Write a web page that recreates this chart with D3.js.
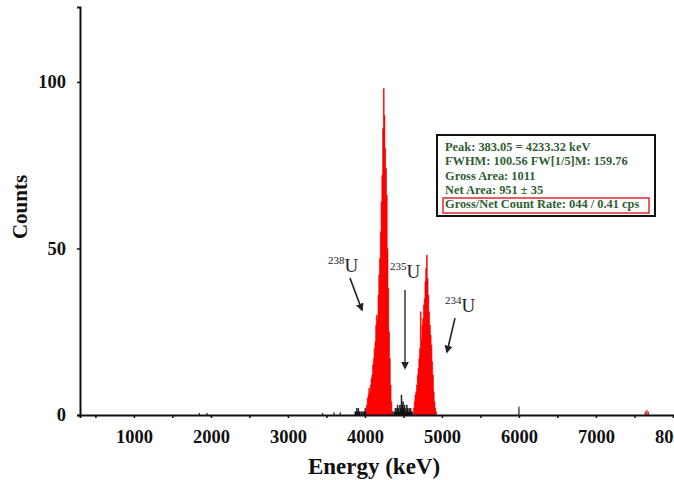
<!DOCTYPE html>
<html>
<head>
<meta charset="utf-8">
<script src="https://cdn.jsdelivr.net/npm/d3@7"></script>
<style>
  body { margin: 0; background: #fff; }
  svg { display: block; font-family: "Liberation Serif", "Times New Roman", serif; }
</style>
</head>
<body>
<div id="container"></div>
<script>
// spectrum, 10 keV channels
const noiseLowEnergy = [3860,3870,3880,3890,3900,3910,3920,3930,3940,3950,3960,3970,3980,3990,4000,4010];
const noiseLowCounts = [0,1,1,2,1,2,1,1,0,1,1,0,1,1,2,1];

const peak238Energy = [4020,4030,4040,4050,4060,4070,4080,4090,4100,4110,4120,4130,4140,4150,4160,4170,4180,
  4190,4200,4210,4220,4230,4240,4250,4260,4270,4280,4290,4300,4310,4320,4330,4340,4350];
const peak238Counts = [3,5,6,8,7,9,11,12,15,17,20,22,27,30,29,36,42,47,55,64,72,86,98,90,80,74,66,50,38,25,17,9,4,1];

const noise235Energy = [4360,4370,4380,4390,4400,4410,4420,4430,4440,4450,4460,4470,4480,4490,4500,4510,4520,
  4530,4540,4550,4560,4570,4580,4590,4600,4610,4620];
const noise235Counts = [1,0,1,2,1,2,3,2,1,3,2,6,3,4,2,3,2,1,3,2,1,2,1,2,1,1,0];

const peak234Energy = [4630,4640,4650,4660,4670,4680,4690,4700,4710,4720,4730,4740,4750,4760,4770,4780,4790,
  4800,4810,4820,4830,4840,4850,4860,4870,4880,4890,4900,4910,4920];
const peak234Counts = [2,4,6,7,9,12,14,17,20,31,23,27,29,33,35,40,44,48,41,36,31,27,24,21,16,12,7,4,2,1];

// stray counts elsewhere
const strayEnergy = [1850,1950,3450,3600,3680,6000];
const strayCounts = [0.6,0.6,0.6,0.8,0.8,2.5];
const strayRedEnergy = [7640,7660,7680];
const strayRedCounts = [1,1.5,1];

const xTicks = [1000,2000,3000,4000,5000,6000,7000,8000];
const xMinorTicks = [500,1500,2500,3500,4500,5500,6500,7500];
const yTicks = [0,50,100];

const infoLines = ["Peak: 383.05 = 4233.32 keV", "FWHM: 100.56 FW[1/5]M: 159.76", "Gross Area: 1011",
  "Net Area: 951 \u00b1 35", "Gross/Net Count Rate: 044 / 0.41 cps"];

const W = 674, H = 480;
const svg = d3.select("#container").append("svg").attr("width", W).attr("height", H);

const x = d3.scaleLinear().domain([300, 8100]).range([80, 680.6]);
const y = d3.scaleLinear().domain([0, 122.5]).range([415, 7]);

function channels(en, cn) { return en.map((e, i) => ({e: e, c: cn[i]})); }

const area = d3.area()
  .x(d => x(d.e))
  .y0(y(0))
  .y1(d => y(d.c))
  .curve(d3.curveStepAfter);

function drawBlock(en, cn, fill, stroke) {
  const pts = channels(en, cn);
  pts.push({e: en[en.length - 1] + 10, c: 0});
  svg.append("path").datum(pts)
    .attr("d", area)
    .attr("fill", fill)
    .attr("stroke", stroke)
    .attr("stroke-width", 0.6);
}

drawBlock(noiseLowEnergy, noiseLowCounts, "#111", "#111");
drawBlock(noise235Energy, noise235Counts, "#111", "#111");
drawBlock(peak238Energy, peak238Counts, "#ff0000", "#d80000");
drawBlock(peak234Energy, peak234Counts, "#ff0000", "#d80000");

svg.selectAll(".stray").data(channels(strayEnergy, strayCounts)).join("line")
  .attr("x1", d => x(d.e)).attr("x2", d => x(d.e))
  .attr("y1", y(0)).attr("y2", d => y(d.c))
  .attr("stroke", "#222").attr("stroke-width", 1.2);
svg.selectAll(".strayRed").data(channels(strayRedEnergy, strayRedCounts)).join("line")
  .attr("x1", d => x(d.e)).attr("x2", d => x(d.e))
  .attr("y1", y(0)).attr("y2", d => y(d.c))
  .attr("stroke", "#d33").attr("stroke-width", 1.5);

// axes
svg.append("g")
  .attr("transform", `translate(0,${y(0)})`)
  .call(d3.axisBottom(x).tickValues(xTicks).tickSize(3).tickPadding(12).tickFormat(d3.format("d")));
svg.append("g")
  .attr("transform", `translate(0,${y(0)})`)
  .call(d3.axisBottom(x).tickValues(xMinorTicks).tickSize(3).tickFormat(""))
  .select(".domain").remove();

svg.append("g")
  .attr("transform", `translate(${x(300)},0)`)
  .call(d3.axisLeft(y).tickValues(yTicks).tickSize(3).tickPadding(11));

svg.selectAll(".domain").attr("stroke", "#111").attr("stroke-width", 2);
svg.selectAll(".tick line").attr("stroke", "#111").attr("stroke-width", 1.5);
svg.selectAll(".tick text")
  .attr("font-family", "Liberation Serif, serif")
  .attr("font-weight", "bold")
  .attr("font-size", 18.5)
  .attr("fill", "#111");

svg.append("text")
  .attr("x", 374).attr("y", 474)
  .attr("text-anchor", "middle")
  .attr("font-weight", "bold").attr("font-size", 23).attr("fill", "#111")
  .text("Energy (keV)");

svg.append("text")
  .attr("transform", "translate(27,207) rotate(-90)")
  .attr("text-anchor", "middle")
  .attr("font-weight", "bold").attr("font-size", 21).attr("fill", "#111")
  .text("Counts");

// isotope labels and arrows (placed in energy / count units)
const defs = svg.append("defs");
defs.append("marker").attr("id", "ah")
  .attr("viewBox", "0 0 10 10").attr("refX", 8).attr("refY", 5)
  .attr("markerWidth", 5).attr("markerHeight", 5).attr("orient", "auto")
  .append("path").attr("d", "M0,0 L10,5 L0,10 z").attr("fill", "#222");

const labels = [
  {mass: "238", e: 3521, c: 43},
  {mass: "235", e: 4326, c: 41.1},
  {mass: "234", e: 5040, c: 30.9}
];
const arrows = [
  {e1: 3806, c1: 41.1, e2: 3962, c2: 31.5, col: "#222"},
  {e1: 4521, c1: 37.5, e2: 4521, c2: 14.1, col: "#444"},
  {e1: 5170, c1: 29.1, e2: 5066, c2: 18.9, col: "#222"}
];

labels.forEach(l => {
  const t = svg.append("text").attr("x", x(l.e)).attr("y", y(l.c)).attr("fill", "#222");
  t.append("tspan").attr("font-size", 11).attr("dy", -8).text(l.mass);
  t.append("tspan").attr("font-size", 19).attr("dy", 8).text("U");
});
arrows.forEach(a => {
  svg.append("line")
    .attr("x1", x(a.e1)).attr("y1", y(a.c1))
    .attr("x2", x(a.e2)).attr("y2", y(a.c2))
    .attr("stroke", a.col).attr("stroke-width", 1.6)
    .attr("marker-end", "url(#ah)");
});

// info box
const box = svg.append("g");
box.append("rect").attr("x", 437).attr("y", 135).attr("width", 218).attr("height", 81)
  .attr("fill", "#fff").attr("stroke", "#111").attr("stroke-width", 2);
box.append("rect").attr("x", 443).attr("y", 198).attr("width", 206).attr("height", 15)
  .attr("fill", "none").attr("stroke", "#e0282f").attr("stroke-width", 1.5);
box.selectAll(".info").data(infoLines).join("text")
  .attr("x", 445)
  .attr("y", (d, i) => 151 + i * 14.3)
  .attr("font-weight", "bold").attr("font-size", 12.4)
  .attr("fill", "#2f5e33")
  .text(d => d);
</script>
</body>
</html>
